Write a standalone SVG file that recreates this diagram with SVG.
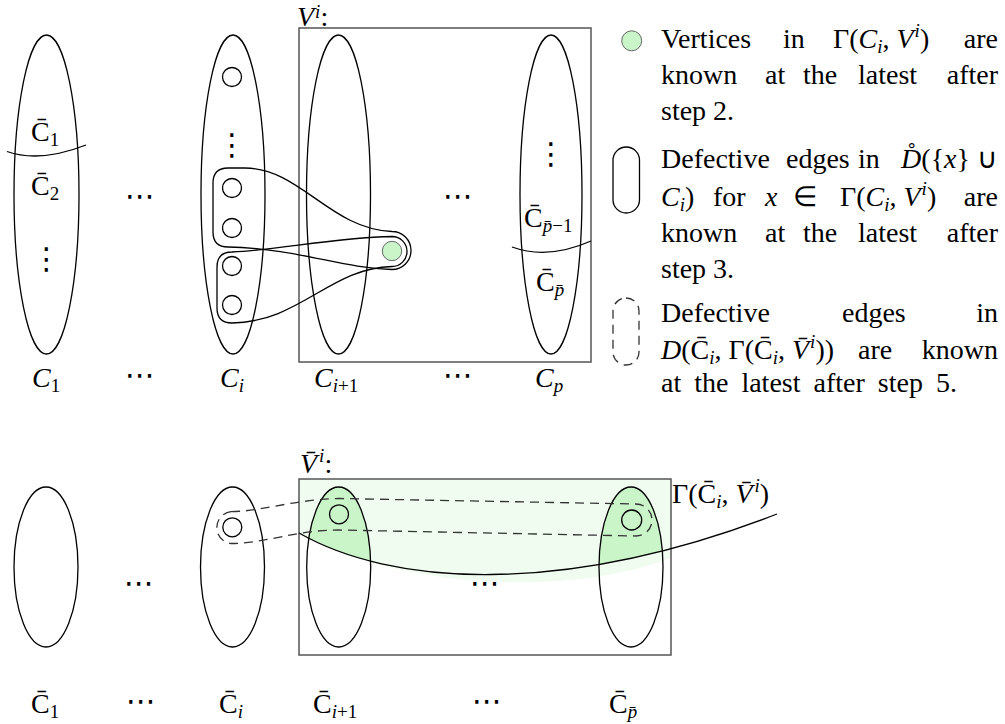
<svg xmlns="http://www.w3.org/2000/svg" width="1005" height="724" viewBox="0 0 1005 724">
<style>
text { font-family: "Liberation Serif", serif; font-size: 28px; fill: #000; }
.it { font-style: italic; }
.s { font-size: 19px; }
.dots { font-family: "DejaVu Sans", sans-serif; font-size: 30px; }
.ln { fill: none; stroke: #000; stroke-width: 1.3; }
.box { fill: none; stroke: #555; stroke-width: 1.5; }
.dash { fill: none; stroke: #333; stroke-width: 1.3; stroke-dasharray: 9 6; }
.gr { fill: #c9f5c9; stroke: #666; stroke-width: 1; }
</style>
<defs>
<clipPath id="above">
<path d="M 290,470 L 790,470 L 790,514 L 777,514 C 560,598 390,585 299,533 L 290,533 Z"/>
</clipPath>
</defs>
<rect width="1005" height="724" fill="#fff"/>

<!-- ===== TOP PART ===== -->
<g id="top-C1">
<ellipse class="ln" cx="46.5" cy="194.5" rx="32.5" ry="159.5"/>
<path class="ln" d="M 7,151.5 Q 40,163 86,145"/>
<text x="31" y="141">C̄<tspan class="s" dy="5">1</tspan></text>
<text x="31" y="195">C̄<tspan class="s" dy="5">2</tspan></text>
<text class="dots" x="46.5" y="269" text-anchor="middle">⋮</text>
</g>
<text class="dots" x="140" y="206" text-anchor="middle">⋯</text>
<g id="top-Ci">
<ellipse class="ln" cx="233" cy="194.5" rx="32" ry="159.5"/>
<circle class="ln" cx="232" cy="77" r="9.5"/>
<text class="dots" x="232" y="155" text-anchor="middle">⋮</text>
<circle class="ln" cx="232" cy="188" r="9.5"/>
<circle class="ln" cx="232" cy="228" r="9.5"/>
<circle class="ln" cx="232" cy="266" r="9.5"/>
<circle class="ln" cx="232" cy="305" r="9.5"/>
</g>
<g id="top-Vi">
<rect class="box" x="299" y="28" width="292" height="334"/>
<text x="297" y="26"><tspan class="it">V</tspan><tspan class="it s" dx="1" dy="-8">i</tspan><tspan dy="8">:</tspan></text>
</g>
<g id="top-Ci1">
<ellipse class="ln" cx="338.5" cy="194.5" rx="32" ry="159.5"/>
</g>
<text class="dots" x="458" y="206" text-anchor="middle">⋯</text>
<g id="top-Cp">
<ellipse class="ln" cx="551" cy="194.5" rx="31" ry="159.5"/>
<text class="dots" x="551" y="164" text-anchor="middle">⋮</text>
<text x="524" y="227">C̄<tspan class="it s" dy="5">p̄</tspan><tspan class="s">−1</tspan></text>
<path class="ln" d="M 512,247 Q 548,260 591,241"/>
<text x="536" y="291">C̄<tspan class="it s" dy="5">p̄</tspan></text>
</g>
<g id="connectors">
<path class="ln" d="M 392,231.5 C 330,229 300,168 245,168 L 228,168 Q 213,168 213,183 L 213,232 Q 213,247 228,247 C 300,249 340,268 392,269.5 A 19 19 0 0 0 392,231.5 Z"/>
<path class="ln" d="M 392,236.5 C 330,238 280,250 232,252 Q 217,252 217,267 L 217,308 Q 217,323 232,323 C 300,322 330,268 392,266.5 A 15 15 0 0 0 392,236.5 Z"/>
</g>
<g id="top-x">
<circle class="gr" cx="392" cy="251" r="9.7"/>
</g>
<g id="top-labels">
<text x="32" y="387"><tspan class="it">C</tspan><tspan class="s" dy="5">1</tspan></text>
<text class="dots" x="140" y="385" text-anchor="middle">⋯</text>
<text x="220" y="387"><tspan class="it">C</tspan><tspan class="it s" dy="5">i</tspan></text>
<text x="314" y="387"><tspan class="it">C</tspan><tspan class="s" dy="5"><tspan class="it">i</tspan>+1</tspan></text>
<text class="dots" x="458" y="385" text-anchor="middle">⋯</text>
<text x="535" y="387"><tspan class="it">C</tspan><tspan class="it s" dy="5">p</tspan></text>
</g>

<!-- ===== LEGEND ===== -->
<g id="legend-1">
<circle class="gr" cx="631.7" cy="40.8" r="10"/>
<text x="661" y="47.5">Vertices</text>
<text x="783" y="47.5">in</text>
<text x="833" y="47.5">Γ(<tspan class="it">C</tspan><tspan class="it s" dy="5">i</tspan><tspan dy="-5">, </tspan><tspan class="it">V</tspan><tspan class="it s" dx="1" dy="-11">i</tspan><tspan dy="11">)</tspan></text>
<text x="998" y="47.5" text-anchor="end">are</text>
<text x="661" y="84">known</text>
<text x="765" y="84">at</text>
<text x="803" y="84">the</text>
<text x="858" y="84">latest</text>
<text x="998" y="84" text-anchor="end">after</text>
<text x="661" y="120">step 2.</text>
</g>
<g id="legend-2">
<rect class="ln" x="613" y="147" width="26.5" height="66" rx="13.25"/>
<text x="661" y="168.3">Defective</text>
<text x="786" y="168.3">edges</text>
<text x="858" y="168.3">in</text>
<text x="998" y="168.3" text-anchor="end"><tspan class="it">D̊</tspan>({<tspan class="it">x</tspan>} ∪</text>
<text x="661" y="206"><tspan class="it">C</tspan><tspan class="it s" dy="5">i</tspan><tspan dy="-5">)</tspan></text>
<text x="713" y="206">for</text>
<text x="765" y="206" class="it">x</text>
<text x="793" y="206">∈</text>
<text x="840" y="206">Γ(<tspan class="it">C</tspan><tspan class="it s" dy="5">i</tspan><tspan dy="-5">, </tspan><tspan class="it">V</tspan><tspan class="it s" dx="1" dy="-11">i</tspan><tspan dy="11">)</tspan></text>
<text x="998" y="206" text-anchor="end">are</text>
<text x="661" y="241.7">known</text>
<text x="765" y="241.7">at</text>
<text x="803" y="241.7">the</text>
<text x="858" y="241.7">latest</text>
<text x="998" y="241.7" text-anchor="end">after</text>
<text x="661" y="277.7">step 3.</text>
</g>
<g id="legend-3">
<rect class="dash" x="613" y="298" width="26" height="67" rx="13"/>
<text x="661" y="321.7">Defective</text>
<text x="842" y="321.7">edges</text>
<text x="998" y="321.7" text-anchor="end">in</text>
<text x="661" y="359"><tspan class="it">D</tspan>(C̄<tspan class="it s" dy="5">i</tspan><tspan dy="-5">, Γ(C̄</tspan><tspan class="it s" dy="5">i</tspan><tspan dy="-5">, </tspan><tspan class="it">V̄</tspan><tspan class="it s" dx="1" dy="-11">i</tspan><tspan dy="11">))</tspan></text>
<text x="858" y="359">are</text>
<text x="998" y="359" text-anchor="end">known</text>
<text x="661" y="391.7" word-spacing="6">at the latest after step 5.</text>
</g>

<!-- ===== BOTTOM PART ===== -->
<g id="bottom-Vbar">
<path d="M 299,479 H 671 V 558 C 560,600 390,585 299,533 Z" fill="#effcef"/>
<rect class="box" x="299" y="479" width="372" height="176"/>
<text x="300" y="473"><tspan class="it">V̄</tspan><tspan class="it s" dx="2" dy="-11">i</tspan><tspan dy="11">:</tspan></text>
</g>
<g id="bottom-C1">
<ellipse class="ln" cx="46" cy="567" rx="32" ry="80"/>
</g>
<text class="dots" x="139" y="593" text-anchor="middle">⋯</text>
<g id="bottom-Ci">
<ellipse class="ln" cx="232.5" cy="567" rx="32" ry="80"/>
<circle class="ln" cx="232.3" cy="527.3" r="9.5"/>
</g>
<g id="bottom-Ci1">
<ellipse cx="338.7" cy="567" rx="32" ry="80" fill="#c9f5c9" clip-path="url(#above)"/>
<ellipse class="ln" cx="338.7" cy="567" rx="32" ry="80"/>
<circle class="ln" cx="339" cy="514.3" r="9.5"/>
</g>
<text class="dots" x="485" y="593" text-anchor="middle">⋯</text>
<g id="bottom-Cp">
<ellipse cx="631" cy="567" rx="32" ry="80" fill="#c9f5c9" clip-path="url(#above)"/>
<ellipse class="ln" cx="631" cy="567" rx="32" ry="80"/>
<circle class="ln" cx="631.7" cy="520" r="10"/>
</g>
<g id="bottom-connectors">
<path class="dash" d="M 231,511.7 C 265,511 290,500 339,498.5 L 636,504 A 16 16 0 0 1 636,536 L 339,530 C 295,530 265,543.5 231,543.5 A 16 16 0 0 1 231,511.7 Z"/>
<path class="ln" d="M 299,533 C 390,585 560,598 777,514"/>
</g>
<g id="bottom-gamma">
<text x="672" y="503">Γ(C̄<tspan class="it s" dy="5">i</tspan><tspan dy="-5">, </tspan><tspan class="it">V̄</tspan><tspan class="it s" dx="2" dy="-11">i</tspan><tspan dy="11">)</tspan></text>
</g>
<g id="bottom-labels">
<text x="31" y="713">C̄<tspan class="s" dy="5">1</tspan></text>
<text class="dots" x="141" y="711" text-anchor="middle">⋯</text>
<text x="219" y="713">C̄<tspan class="it s" dy="5">i</tspan></text>
<text x="313" y="713">C̄<tspan class="s" dy="5"><tspan class="it">i</tspan>+1</tspan></text>
<text class="dots" x="487" y="711" text-anchor="middle">⋯</text>
<text x="609" y="713">C̄<tspan class="it s" dy="5">p̄</tspan></text>
</g>
</svg>
